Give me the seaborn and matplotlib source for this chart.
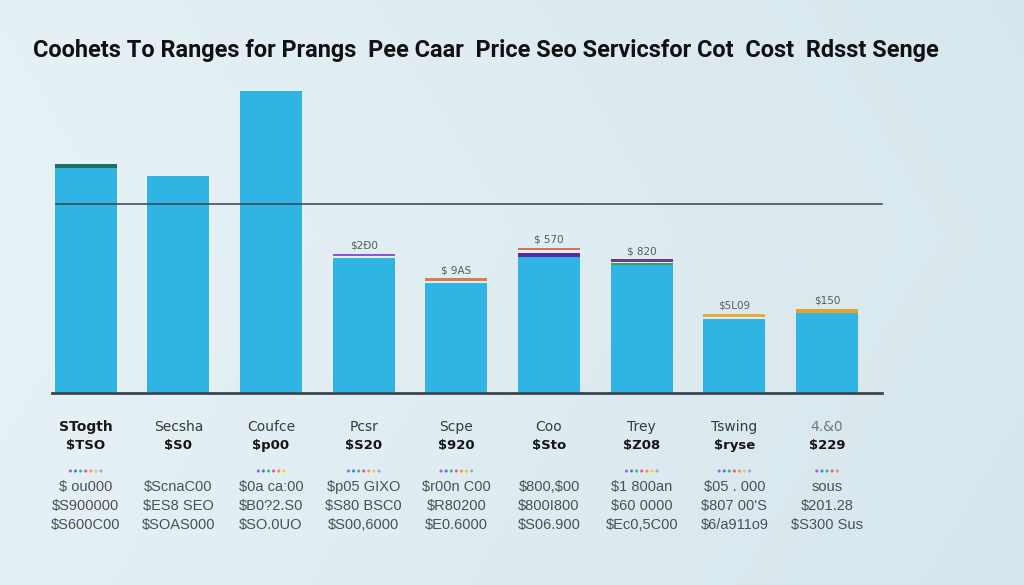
import matplotlib
matplotlib.use("Agg")
import numpy as np
import pandas as pd
import matplotlib.pyplot as plt
import matplotlib.transforms as mtrans
from matplotlib import font_manager
import seaborn as sns

plt.rcParams["text.parse_math"] = False

title = "Coohets To Ranges for Prangs  Pee Caar  Price Seo Servicsfor Cot  Cost  Rdsst Senge"

categories = ["STogth", "Secsha", "Coufce", "Pcsr", "Scpe", "Coo", "Trey", "Tswing", "4.&0"]
prices = ["$TSO", "$S0", "$p00", "$S20", "$920", "$Sto", "$Z08", "$ryse", "$229"]
row1 = ["$ ou000", "$ScnaC00", "$0a ca:00", "$p05 GIXO", "$r00n C00", "$800,$00", "$1 800an", "$05 . 000", "sous"]
row2 = ["$S900000", "$ES8 SEO", "$B0?2.S0", "$S80 BSC0", "$R80200", "$800I800", "$60 0000", "$807 00'S", "$201.28"]
row3 = ["$S600C00", "$SOAS000", "$SO.0UO", "$S00,6000", "$E0.6000", "$S06.900", "$Ec0,5C00", "$6/a911o9", "$S300 Sus"]

base_vals = [225, 217, 302, 135, 110, 136, 128, 74, 80]
bar_labels = ["", "", "", "$2Đ0", "$ 9AS", "$ 570", "$ 820", "$5L09", "$150"]

# thin coloured strips sitting on top of some bars
cap1_gap = [0, 0, 0, 2, 2, 0, 0, 2, 0]
cap1_h = [4, 0, 0, 2.5, 2.7, 4, 1.7, 3.3, 4.5]
cap1_col = ["#1e6e66", "none", "none", "#8a58d2", "#e07848", "#5a2b9c", "#3e9e5c", "#eea838", "#e6a132"]
cap2_gap = [0, 0, 0, 0, 0, 2.7, 1, 0, 0]
cap2_h = [0, 0, 0, 0, 0, 2.7, 3, 0, 0]
cap2_col = ["none", "none", "none", "none", "none", "#d9724c", "#6a3d86", "none", "none"]

ref_line = 189
dot_counts = [7, 0, 6, 7, 7, 0, 7, 7, 5]
dot_palette = ["#9b6bd6", "#4a7fd8", "#3cbf7a", "#e8579b", "#f39a3c", "#f2c94c", "#8fb0c8"]

df = pd.DataFrame({"cat": categories, "val": base_vals})

W, H = 1024, 585
fig = plt.figure(figsize=(W / 100, H / 100), dpi=100)

# background gradient
bg = fig.add_axes([0, 0, 1, 1], zorder=-10)
gx = np.linspace(0, 1, 256)
gy = np.linspace(0, 1, 128)[:, None]
c0 = np.array([0.905, 0.950, 0.965])
c1 = np.array([0.835, 0.895, 0.925])
t = np.clip(0.75 * gx[None, :] + 0.25 * np.abs(gy - 0.4), 0, 1)
img = c0 * (1 - t[..., None]) + c1 * t[..., None]
bg.imshow(img, aspect="auto", extent=[0, 1, 0, 1])
bg.axis("off")

unit = 92.67
x0 = 85.7
left = (x0 - 0.5 * unit) / W
width = 9 * unit / W
bottom = (H - 393) / H
height = 313 / H
ax = fig.add_axes([left, bottom, width, height])
ax.patch.set_alpha(0)

sns.barplot(data=df, x="cat", y="val", color="#30b4e4", saturation=1, width=0.67, ax=ax)

pos = np.arange(len(categories))
for i in pos:
    b1 = base_vals[i] + cap1_gap[i]
    if cap1_h[i] > 0:
        ax.bar(i, cap1_h[i], bottom=b1, width=0.67, color=cap1_col[i], linewidth=0)
    b2 = b1 + cap1_h[i] + cap2_gap[i]
    if cap2_h[i] > 0:
        ax.bar(i, cap2_h[i], bottom=b2, width=0.67, color=cap2_col[i], linewidth=0)
    top = b2 + cap2_h[i]
    if bar_labels[i]:
        ax.text(i, top + 8, bar_labels[i], ha="center", va="center", fontsize=7.5,
                color="#555b63", family="DejaVu Sans")

ax.set_xlim(-0.5, 8.5)
ax.set_ylim(0, 313)
for s in ax.spines.values():
    s.set_visible(False)
ax.set_xticks([])
ax.set_yticks([])
ax.set_xlabel("")
ax.set_ylabel("")

ax.axhline(0, xmin=(52 - left * W) / (width * W), xmax=(882 - left * W) / (width * W),
           color="#3d4650", lw=2, clip_on=False, zorder=5)
ax.axhline(ref_line, xmin=(56 - left * W) / (width * W), xmax=(882 - left * W) / (width * W),
           color="#3a424a", lw=1.1, clip_on=False, zorder=5)

blend = mtrans.blended_transform_factory(ax.transData, fig.transFigure)


def fy(py):
    return 1 - py / H


for i in pos:
    ax.text(i, fy(427), categories[i], transform=blend, ha="center", va="center",
            fontsize=10, color="#1a1a1a" if i == 0 else ("#777" if i == 8 else "#3a3a3a"),
            fontweight="bold" if i == 0 else "normal", family="DejaVu Sans")
    ax.text(i, fy(445), prices[i], transform=blend, ha="center", va="center",
            fontsize=9.5, color="#151515", fontweight="bold", family="DejaVu Sans")
    for r, py in zip((row1, row2, row3), (487, 506, 525)):
        ax.text(i, fy(py), r[i], transform=blend, ha="center", va="center",
                fontsize=10.5, color="#4a5058", family=["Liberation Sans", "DejaVu Sans"])
    n = dot_counts[i]
    if n:
        xs = i + (np.arange(n) - (n - 1) / 2) * 0.055
        ys = np.full(n, fy(471))
        ax.scatter(xs, ys, s=5, c=[dot_palette[k % len(dot_palette)] for k in range(n)],
                   transform=blend, clip_on=False, linewidths=0)

names = {f.name for f in font_manager.fontManager.ttflist}
tfam = ["Liberation Sans Narrow"] if "Liberation Sans Narrow" in names else ["Roboto"]
tt = fig.text(33 / W, fy(50), title, ha="left", va="center", fontsize=19,
              fontweight="bold", color="#111", family=tfam + ["DejaVu Sans"])
fig.canvas.draw()
w = tt.get_window_extent(fig.canvas.get_renderer()).width
tt.set_fontsize(19 * 907 / w)

fig.savefig("out.png", dpi=100)
